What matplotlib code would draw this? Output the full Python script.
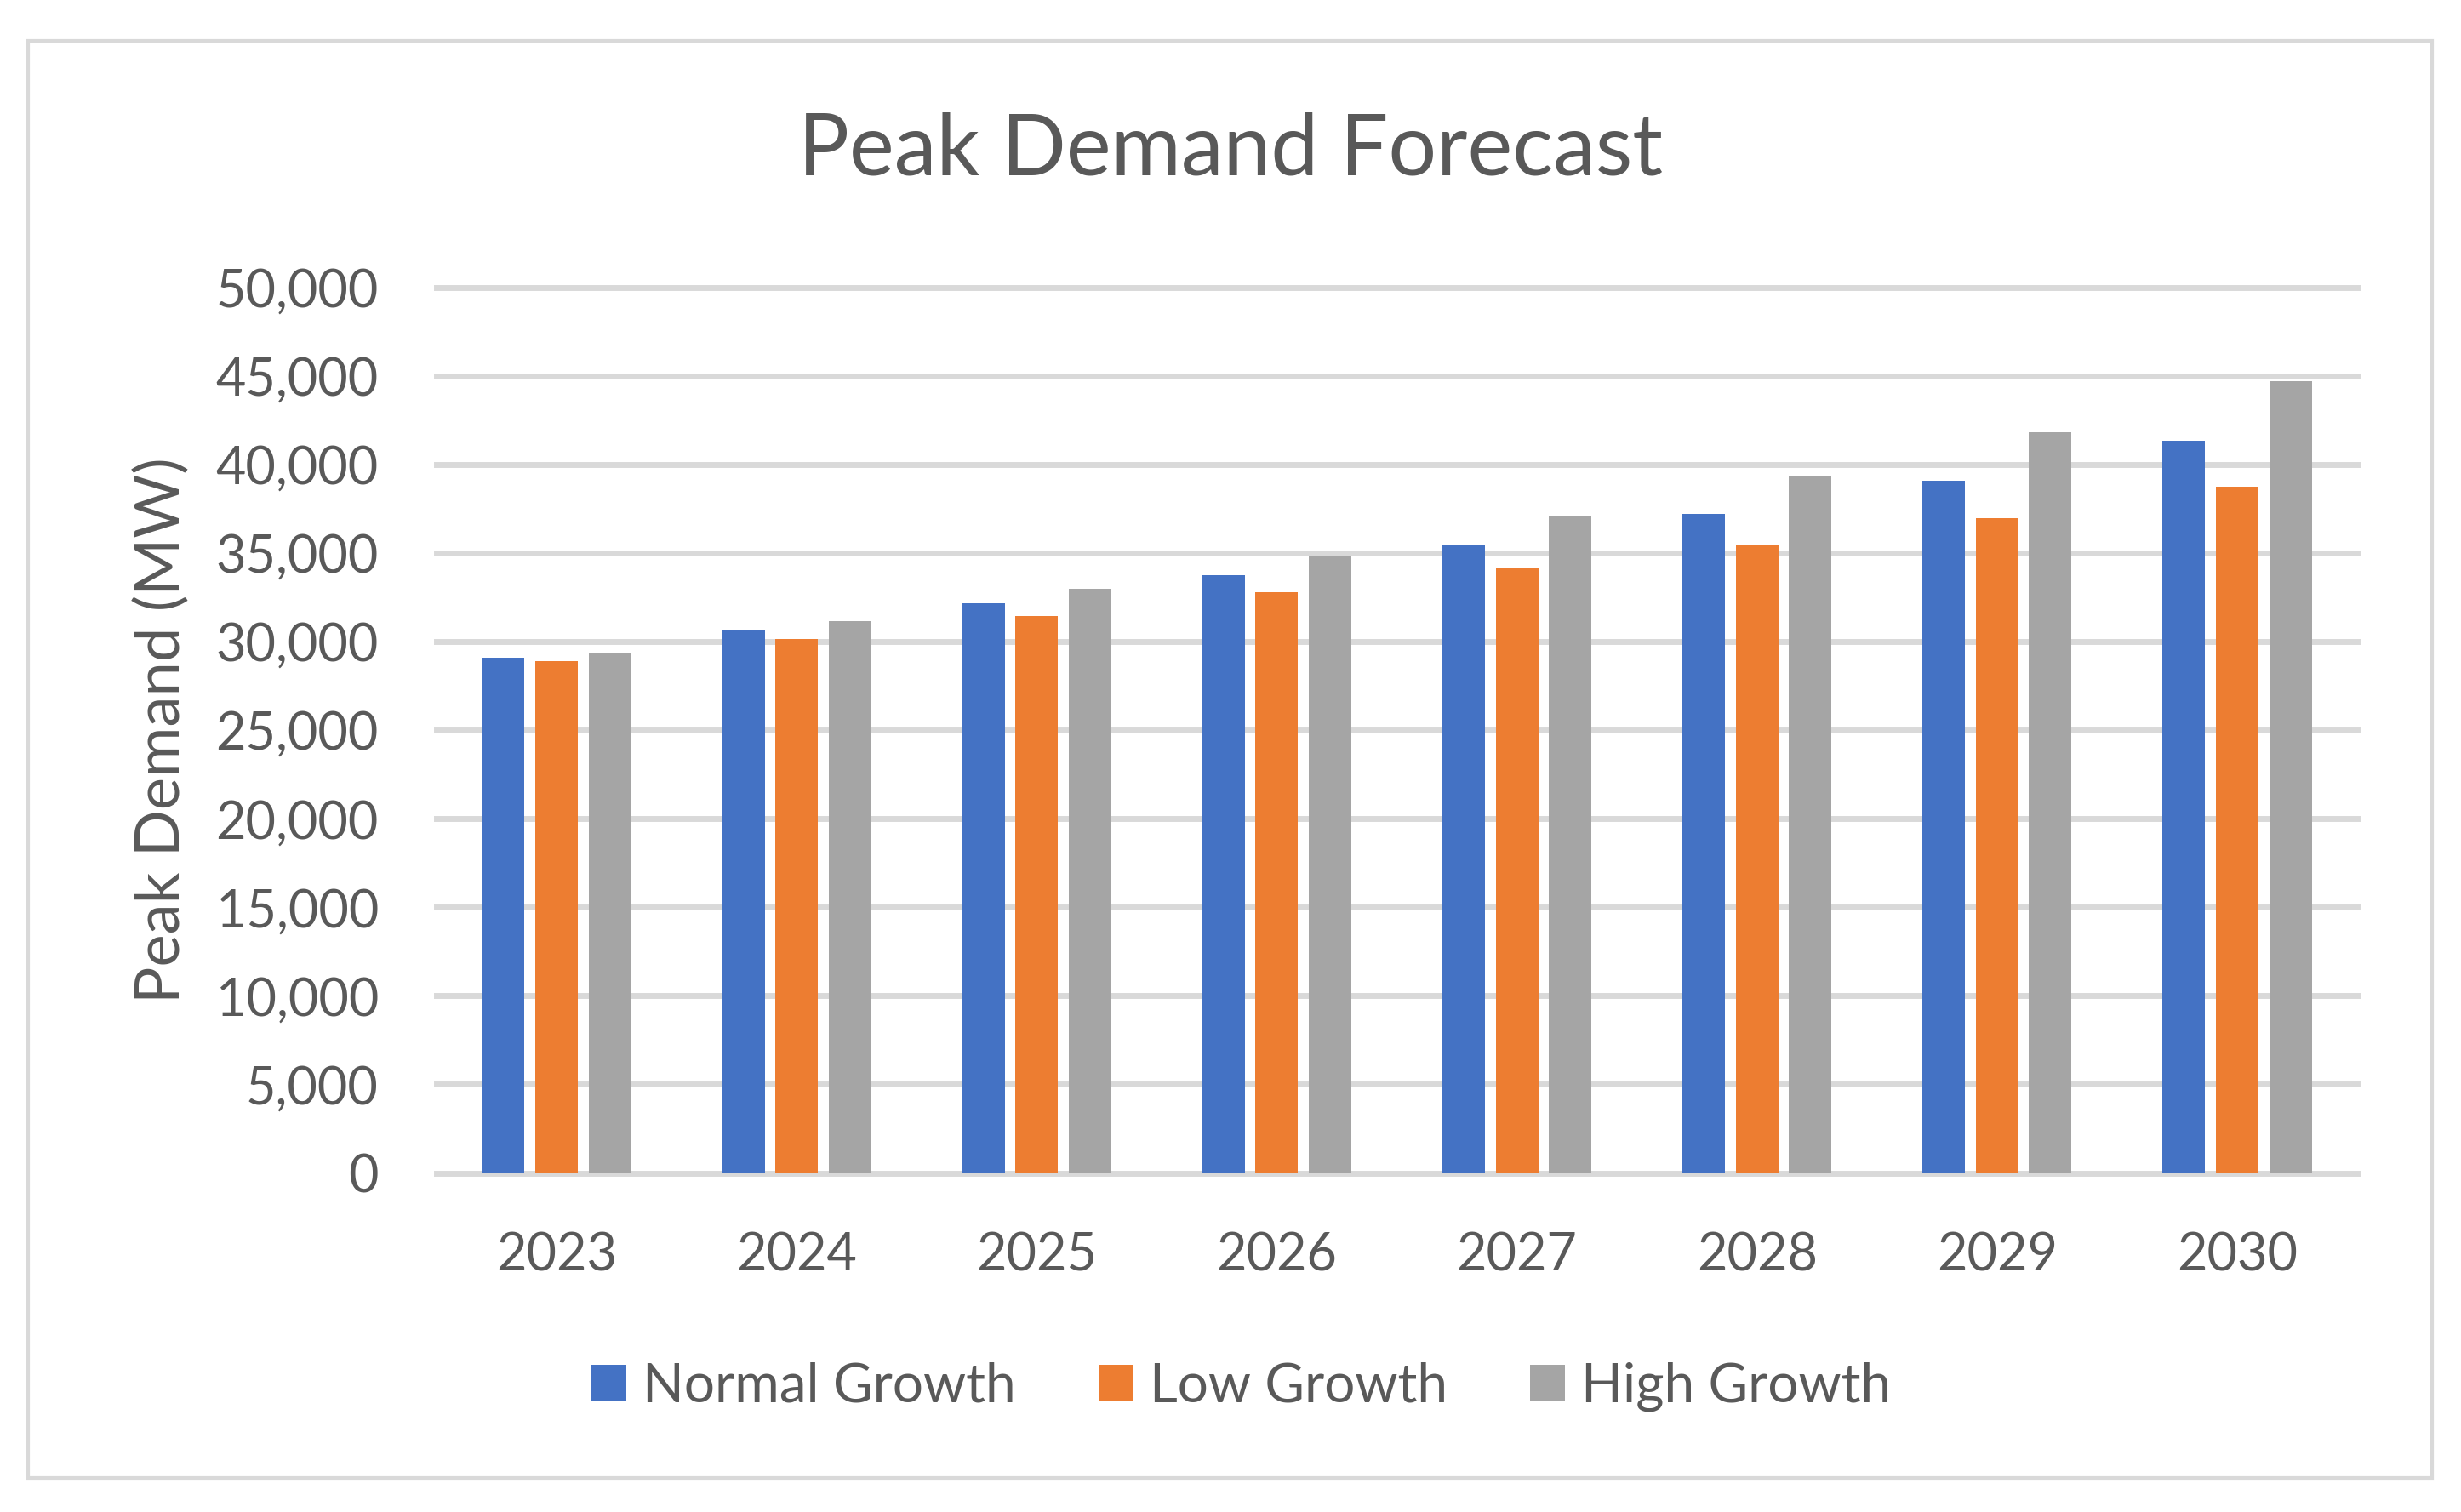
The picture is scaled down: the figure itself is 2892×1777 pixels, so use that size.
import numpy as np
import matplotlib
matplotlib.use("Agg")
from matplotlib import pyplot as plt
from matplotlib.patches import Rectangle
from matplotlib.ticker import FuncFormatter

years = ["2023", "2024", "2025", "2026", "2027", "2028", "2029", "2030"]
normal_growth = [29060, 30600, 32140, 33720, 35440, 37220, 39080, 41340]
low_growth = [28870, 30160, 31460, 32760, 34140, 35480, 36970, 38750]
high_growth = [29300, 31130, 32950, 34860, 37080, 39340, 41810, 44700]

series = [
    ("Normal Growth", normal_growth, "#4472C4"),
    ("Low Growth", low_growth, "#ED7D31"),
    ("High Growth", high_growth, "#A5A5A5"),
]

text_color = "#595959"
grid_color = "#D9D9D9"
plt.rcParams["font.family"] = ["Lato", "DejaVu Sans"]

W, H = 2892, 1777
fig = plt.figure(figsize=(W / 100, H / 100), dpi=100)

# outer chart border
fig.patches.append(
    Rectangle((33 / W, 1 - 1737 / H), (2858 - 33) / W, (1737 - 48) / H,
              transform=fig.transFigure, fill=False, edgecolor=grid_color,
              linewidth=3)
)

ax = fig.add_axes([513 / W, 1 - 1378.5 / H, 2257 / W, (1378.5 - 337.5) / H])
x = np.arange(len(years))
bar_w = 0.177
step = 0.222
for i, (name, vals, col) in enumerate(series):
    ax.bar(x + (i - 1) * step, vals, width=bar_w, color=col, label=name, zorder=3)

ax.set_xlim(-0.5, len(years) - 0.5)
ax.set_ylim(0, 50000)
ax.set_yticks(np.arange(0, 50001, 5000))
ax.yaxis.set_major_formatter(FuncFormatter(lambda v, p: f"{int(v):,}"))
ax.set_xticks(x)
ax.set_xticklabels(years)
ax.yaxis.grid(True, color=grid_color, linewidth=5)
for gl in ax.get_ygridlines():
    gl.set_clip_on(False)
for s in ax.spines.values():
    s.set_visible(False)
ax.tick_params(axis="both", length=0, labelsize=44, colors=text_color)
ax.tick_params(axis="y", pad=49)
ax.tick_params(axis="x", pad=50)

ax.set_ylabel("Peak Demand (MW)", fontsize=52, color=text_color, labelpad=22)
fig.text(0.5, 1 - 177 / H, "Peak Demand Forecast", fontsize=72,
         color=text_color, ha="center", va="center")

ax.legend(loc="center", bbox_to_anchor=(1459 / W, 1 - 1630 / H), bbox_transform=fig.transFigure,
          ncol=3, frameon=False, fontsize=46, labelcolor=text_color,
          handlelength=0.63, handleheight=0.63, handletextpad=0.31, columnspacing=1.52)

fig.savefig("out.png", dpi=100, facecolor="white")
